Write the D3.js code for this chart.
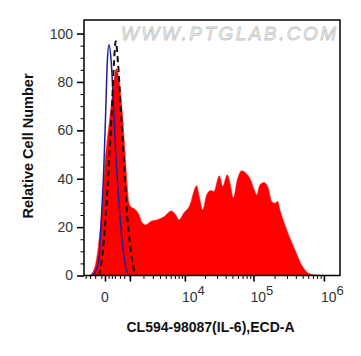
<!DOCTYPE html>
<html><head><meta charset="utf-8">
<script src="https://cdn.jsdelivr.net/npm/d3@7"></script>
<style>body{margin:0;background:#fff}</style>
</head><body><svg id="c" width="361" height="356"></svg>
<script>
// Sample (red filled) histogram: fluorescence values and relative counts (%)
const redX = [-504,-308,-195,-91,0,62,142,238,356,462,605,770,854,948,1048,1375,1621,1896,2212,2745,3595,4667,6134,7202,8112,9690,12248,13400,15064,16464,18480,21168,24224,27056,32312,36192,42168,47200,51456,58720,67904,78224,91280,102720,111170,123920,141200,162560,181680,202400,221040,238320,280640,330400,389040,458080,539200,634720,790080,1218400];
const redY = [0,3.6,11.9,25.9,46.5,56.1,65.8,76.8,85.4,81.0,67.3,46.6,36.6,30.0,28.5,27.1,25.1,21.7,20.9,22.3,23.0,24.3,26.7,25.1,23.0,25.9,30.0,34.0,37.1,32.6,27.1,33.3,35.1,34.7,41.2,36.8,41.6,36.8,32.0,39.5,43.3,42.3,39.5,35.4,33.3,37.5,38.4,36.1,30.6,29.9,30.6,27.1,20.9,15.4,10.6,5.7,2.3,0.6,0.2,0];
// Blank control (blue solid)
const blueX = [-383,-173,-120,-26,18,62,111,182,273,356,462,605,770,948,1128];
const blueY = [0,6.4,18.8,46.6,67.3,88.0,95.4,88.0,65.8,46.6,30.0,13.5,3.6,0,0];
// Isotype control (black dashed)
const blackX = [-173,-74,18,111,195,273,334,422,534,686,854,1048,1257,1447];
const blackY = [0,7.8,24.3,46.6,67.3,88.0,96.8,88.0,69.9,46.6,24.3,10.6,2.3,0];

const yMajor = [0,20,40,60,80,100];
const yMinor = [5,10,15,25,30,35,45,50,55,65,70,75,85,90,95];
const xMajor = [0,10000,100000,1000000];
const xMajorLabels = [{b:"0",e:""},{b:"10",e:"4"},{b:"10",e:"5"},{b:"10",e:"6"}];
const xMinor = [-700,-500,-300,-100,100,200,300,500,700,1000,2000,3000,4000,5000,6000,7000,8000,9000,20000,30000,40000,50000,60000,70000,80000,90000,200000,300000,400000,500000,600000,700000,800000,900000];

const xTitle = "CL594-98087(IL-6),ECD-A";
const yTitle = "Relative Cell Number";
const watermark = "WWW.PTGLAB.COM";

const L=84, R=340, T=20, B=275.5;
const svg = d3.select("#c");
const x = d3.scaleSymlog().constant(800).domain([-785, 1690000]).range([L, R]);
const y = d3.scaleLinear().domain([0, 105.6]).range([B, T]);

// watermark
svg.append("text").attr("x",121).attr("y",40).attr("font-family","Liberation Sans, Arial, sans-serif")
  .attr("font-size",19).attr("font-style","italic").attr("fill","#f6f6f6").attr("stroke","#c4c4c4")
  .attr("stroke-width",0.8).attr("textLength",215).attr("lengthAdjust","spacing").text(watermark);

const zip = (xs, ys) => xs.map((v,i)=>[v, ys[i]]);
const area = d3.area().x(d=>x(d[0])).y0(y(0)).y1(d=>y(d[1])).curve(d3.curveMonotoneX);
const line = d3.line().x(d=>x(d[0])).y(d=>y(d[1])).curve(d3.curveMonotoneX);

const g = svg.append("g");
g.append("path").datum(zip(redX, redY)).attr("d", area).attr("fill","#ff0000").attr("stroke","#ff2020").attr("stroke-width",0.6);
g.append("path").datum(zip(blueX, blueY)).attr("d", line).attr("fill","none").attr("stroke","#1e1e98").attr("stroke-width",1.5);
g.append("path").datum(zip(blackX, blackY)).attr("d", line).attr("fill","none").attr("stroke","#111").attr("stroke-width",2).attr("stroke-dasharray","6,4");

// frame
svg.append("rect").attr("x",L).attr("y",T).attr("width",R-L).attr("height",B-T).attr("fill","none").attr("stroke","#000").attr("stroke-width",1.5);

// y axis
const yAxMaj = svg.append("g").attr("transform",`translate(${L},0)`)
  .call(d3.axisLeft(y).tickValues(yMajor).tickSize(7).tickPadding(4).tickFormat(d3.format("d")));
const yAxMin = svg.append("g").attr("transform",`translate(${L},0)`)
  .call(d3.axisLeft(y).tickValues(yMinor).tickSize(3.5).tickFormat(""));
// x axis
const xAxMaj = svg.append("g").attr("transform",`translate(0,${B})`)
  .call(d3.axisBottom(x).tickValues(xMajor.concat([1000])).tickSize(6).tickFormat(""));
const xAxMin = svg.append("g").attr("transform",`translate(0,${B})`)
  .call(d3.axisBottom(x).tickValues(xMinor).tickSize(3.5).tickFormat(""));
[yAxMaj,yAxMin,xAxMaj,xAxMin].forEach(a=>{a.select(".domain").remove();});
[yAxMaj,xAxMaj].forEach(a=>a.selectAll(".tick line").attr("stroke","#000").attr("stroke-width",1.6));
[yAxMin,xAxMin].forEach(a=>a.selectAll(".tick line").attr("stroke","#000").attr("stroke-width",1));
yAxMaj.selectAll(".tick text").attr("font-family","Liberation Sans, Arial, sans-serif").attr("font-size",14).attr("fill","#333");

// x labels with superscripts
xMajor.forEach((v,i)=>{
  const lb = xMajorLabels[i];
  const t = svg.append("text").attr("y",302).attr("font-family","Liberation Sans, Arial, sans-serif")
    .attr("font-size",14).attr("fill","#333");
  if (!lb.e) { t.attr("x", x(v)).attr("text-anchor","middle").text(lb.b); }
  else {
    t.attr("x", x(v)-3).attr("text-anchor","start");
    t.append("tspan").text(lb.b);
    t.append("tspan").attr("dy",-7).attr("font-size",13).text(lb.e);
  }
});

// titles
svg.append("text").attr("x",210.5).attr("y",331.5).attr("text-anchor","middle")
  .attr("font-family","Liberation Sans, Arial, sans-serif").attr("font-weight","bold").attr("font-size",14).attr("fill","#111").text(xTitle);
svg.append("text").attr("transform","translate(33,146) rotate(-90)").attr("text-anchor","middle")
  .attr("font-family","Liberation Sans, Arial, sans-serif").attr("font-weight","bold").attr("font-size",14.5).attr("fill","#111").text(yTitle);
</script>
</body></html>
